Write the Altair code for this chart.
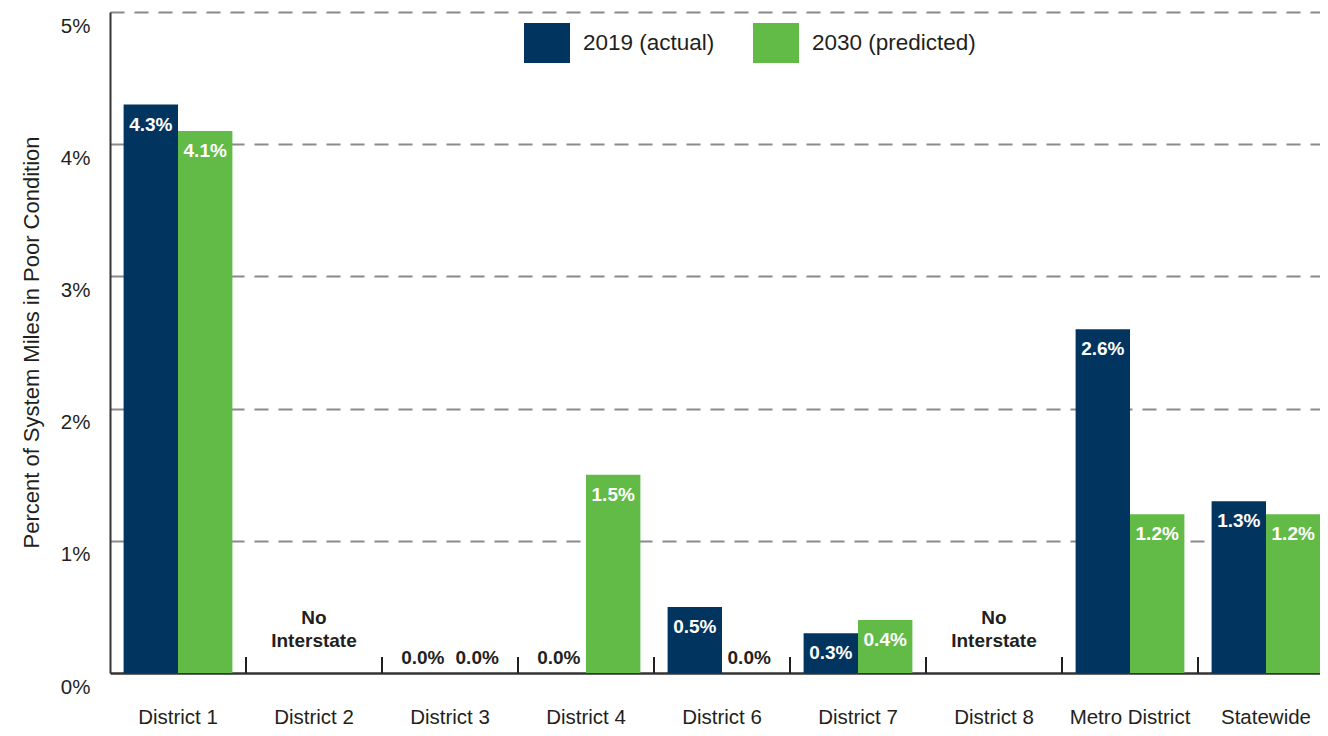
import altair as alt
import pandas as pd

districts = ["District 1", "District 2", "District 3", "District 4", "District 6",
             "District 7", "District 8", "Metro District", "Statewide"]
series = ["2019 (actual)", "2030 (predicted)"]
v2019 = [4.3, None, 0.0, 0.0, 0.5, 0.3, None, 2.6, 1.3]
v2030 = [4.1, None, 0.0, 1.5, 0.0, 0.4, None, 1.2, 1.2]
no_data_districts = ["District 2", "District 8"]
no_data_text = ["No", "Interstate"]
y_ticks = [0, 1, 2, 3, 4, 5]
colors = ["#01355F", "#62BB46"]

rows = []
for s, vals in zip(series, [v2019, v2030]):
    for d, v in zip(districts, vals):
        if v is not None:
            rows.append({"district": d, "series": s, "value": v, "label": f"{v:.1f}%"})
df = pd.DataFrame(rows)
notes = pd.DataFrame({"district": no_data_districts, "note": [no_data_text] * len(no_data_districts)})
seps = pd.DataFrame({"district": districts[1:]})

FONT = "Liberation Sans, Arial, sans-serif"
TXT = "#231f20"

xscale = alt.Scale(domain=districts, paddingInner=0, paddingOuter=0)
yscale = alt.Scale(domain=[0, 5], nice=False)
offscale = alt.Scale(domain=series, paddingInner=0, paddingOuter=0.25)

x_enc = alt.X("district:N", scale=xscale, sort=districts,
              axis=alt.Axis(title=None, labelFont=FONT, labelFontSize=20.5, labelColor=TXT,
                            labelPadding=34, labelBaseline="top", ticks=False,
                            domainColor="#333333", domainWidth=2.5,
                            labelAngle=0, grid=False))
y_enc = alt.Y("value:Q", scale=yscale,
              axis=alt.Axis(title="Percent of System Miles in Poor Condition", values=y_ticks,
                            labelExpr="datum.value + '%'", labelFont=FONT, labelFontSize=20.5,
                            labelColor=TXT, labelPadding=20, labelOffset=14, ticks=False,
                            domainColor="#333333", domainWidth=2,
                            grid=True, gridColor="#8a8a8a", gridWidth=2, gridDash=[14, 10],
                            gridOpacity={"condition": {"test": "datum.value === 0", "value": 0}, "value": 1},
                            titleFont=FONT, titleFontSize=22, titleFontWeight="normal",
                            titleColor=TXT, titleAngle=-90, titleX=-79, titleY=330,
                            titleAlign="center", titleBaseline="middle"))

bars = alt.Chart(df).mark_bar().encode(
    x=x_enc,
    y=y_enc,
    xOffset=alt.XOffset("series:N", scale=offscale, sort=series),
    color=alt.Color("series:N", scale=alt.Scale(domain=series, range=colors), title=None,
                    legend=alt.Legend(orient="none", legendX=417, legendY=11, direction="horizontal",
                                      symbolType="M-1.15,-1L1.15,-1L1.15,1L-1.15,1Z",
                                      symbolSize=1600, symbolStrokeWidth=0, symbolOpacity=1,
                                      labelFont=FONT, labelFontSize=22.5, labelColor=TXT,
                                      labelLimit=400, labelOffset=16, columnPadding=38, padding=0)),
)

pos_labels = alt.Chart(df).transform_filter("datum.value > 0").mark_text(
    font=FONT, fontWeight="bold", fontSize=19, color="white", baseline="middle", dy=20
).encode(
    x=alt.X("district:N", scale=xscale, sort=districts),
    y=alt.Y("value:Q", scale=yscale),
    xOffset=alt.XOffset("series:N", scale=offscale, sort=series),
    text="label:N",
)

zero_labels = alt.Chart(df).transform_filter("datum.value == 0").mark_text(
    font=FONT, fontWeight="bold", fontSize=19, color=TXT, baseline="middle", dy=-15
).encode(
    x=alt.X("district:N", scale=xscale, sort=districts),
    y=alt.Y("value:Q", scale=yscale),
    xOffset=alt.XOffset("series:N", scale=offscale, sort=series),
    text="label:N",
)

note_text = alt.Chart(notes).mark_text(
    font=FONT, fontWeight="bold", fontSize=19, color=TXT, baseline="middle",
    lineHeight=23, dy=-55
).encode(
    x=alt.X("district:N", scale=xscale, sort=districts),
    y=alt.datum(0, scale=yscale),
    text="note",
)

separators = alt.Chart(seps).mark_rule(color=TXT, strokeWidth=2).encode(
    x=alt.X("district:N", scale=xscale, sort=districts, bandPosition=0),
    y=alt.value(645),
    y2=alt.value(661),
)

chart = alt.layer(bars, pos_labels, zero_labels, note_text, separators).properties(
    width=1224, height=661,
    autosize=alt.AutoSizeParams(type="none"),
    padding={"left": 102, "top": 4, "right": -14, "bottom": 58},
).configure_view(stroke=None)

chart.save("out.html", embed_options={"renderer": "svg", "actions": False})
